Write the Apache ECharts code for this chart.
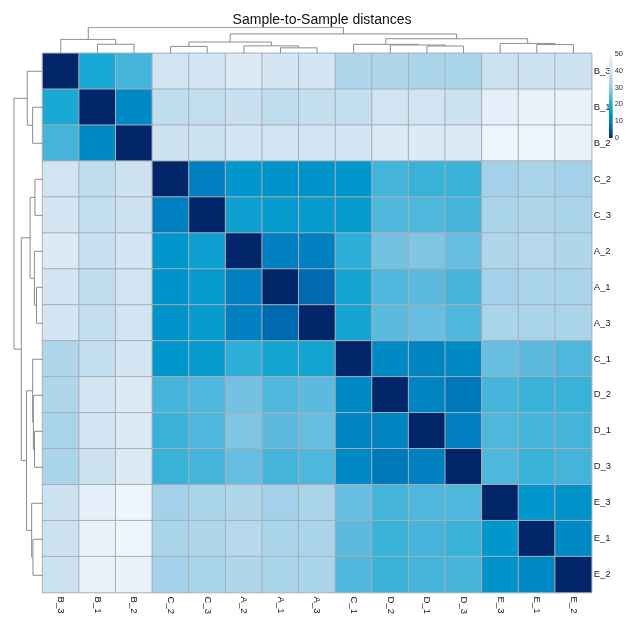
<!DOCTYPE html>
<html>
<head>
<meta charset="utf-8">
<script src="https://cdn.jsdelivr.net/npm/echarts@6/dist/echarts.min.js"></script>
<style>html,body{margin:0;padding:0;background:#fff;}#chart{width:626px;height:617px;}</style>
</head>
<body>
<div id="chart"></div>
<script>
// ---- data ----
const samples = ['B_3','B_1','B_2','C_2','C_3','A_2','A_1','A_3','C_1','D_2','D_1','D_3','E_3','E_1','E_2'];
const row_B_3 = [0,19,23,41,42,44,42,42,34,34,33,33,40,40,40];
const row_B_1 = [19,0,12,37,38,39,37,38,38,41,41,40,46,47,47];
const row_B_2 = [23,12,0,40,40,42,41,41,42,44,44,44,48,48,47];
const row_C_2 = [41,37,40,0,10,15,14,14,15,23,22,22,32,33,32];
const row_C_3 = [42,38,40,10,0,17,16,16,16,24,24,23,33,34,33];
const row_A_2 = [44,39,42,15,17,0,10,10,21,27,28,26,34,35,34];
const row_A_1 = [42,37,41,14,16,10,0,7,18,24,25,23,32,33,33];
const row_A_3 = [42,38,41,14,16,10,7,0,18,25,26,24,33,33,33];
const row_C_1 = [34,38,42,15,16,21,18,18,0,12,11,12,26,25,24];
const row_D_2 = [34,41,44,23,24,27,24,25,12,0,11,9,23,22,22];
const row_D_1 = [33,41,44,22,24,28,25,26,11,11,0,10,24,23,23];
const row_D_3 = [33,40,44,22,23,26,23,24,12,9,10,0,24,22,23];
const row_E_3 = [40,46,48,32,33,34,32,33,26,23,24,24,0,15,14];
const row_E_1 = [40,47,48,33,34,35,33,33,25,22,23,22,15,0,12];
const row_E_2 = [40,47,47,32,33,34,33,33,24,22,23,23,14,12,0];
const rows = [row_B_3,row_B_1,row_B_2,row_C_2,row_C_3,row_A_2,row_A_1,row_A_3,row_C_1,row_D_2,row_D_1,row_D_3,row_E_3,row_E_1,row_E_2];

// hierarchical clustering (R hclust convention: negative = leaf (1-based), positive = merge step)
const mergeLeft   = [-7, -4, -11, -6, -10, -14, -2, -9, -13, 2, -1, 8, 10, 11];
const mergeRight  = [-8, -5, -12,  1,   3, -15, -3,  5,   6, 4,  7, 9, 12, 13];
const mergeHeight = [21, 26.5, 28, 28.5, 32, 33.5, 34.7, 34.5, 38, 43.5, 53.5, 56, 74.5, 100];

const legendTicks = [0,10,20,30,40,50];
const palette = ['#03266a','#005ca6','#0080c0','#0098cc','#20acd6','#5cbade','#98cce6','#b6d9ed','#cce2f0','#e0ecf7','#f7fbff'];

// ---- build ----
const heatData = [];
rows.forEach((r, i) => r.forEach((v, j) => heatData.push([j, i, v])));

function dendroSegments() {
  const pos = [], hgt = [], segs = [];
  function node(id) {
    if (id < 0) return { p: -id - 1 + 0.5, h: 0 };
    return { p: pos[id - 1], h: hgt[id - 1] };
  }
  for (let k = 0; k < mergeLeft.length; k++) {
    const a = node(mergeLeft[k]), b = node(mergeRight[k]), h = mergeHeight[k];
    pos.push((a.p + b.p) / 2); hgt.push(h);
    segs.push([[a.p, a.h], [a.p, h], [b.p, h], [b.p, b.h]]);
  }
  return segs;
}
const segs = dendroSegments();
const topLines = segs.map(s => ({ coords: s }));
const leftLines = segs.map(s => ({ coords: s.map(([p, h]) => [h, p]) }));

const FONT = 'Liberation Sans, Arial, sans-serif';
const HL = 42.5, HT = 53.3, HW = 549.2, HH = 540;
const lineStyle = { color: '#8c8c8c', width: 1, opacity: 1 };

const option = {
  animation: false,
  textStyle: { fontFamily: FONT },
  title: {
    text: 'Sample-to-Sample distances', left: HL + HW / 2, top: 8, textAlign: 'center',
    textStyle: { fontFamily: FONT, fontSize: 14, fontWeight: 'normal', color: '#111' }
  },
  grid: [
    { left: HL, top: HT, width: HW, height: HH },
    { left: HL, top: 27.3, width: HW, height: HT - 27.3 },
    { left: 14, top: HT, width: HL - 14, height: HH },
    { left: 609, top: 54, width: 5.5, height: 84 }
  ],
  xAxis: [
    { type: 'category', gridIndex: 0, data: samples, position: 'bottom',
      axisLine: { show: false }, axisTick: { show: false }, splitLine: { show: false },
      axisLabel: { rotate: -90, margin: 4, fontSize: 9.5, color: '#222', fontFamily: FONT } },
    { type: 'value', gridIndex: 1, min: 0, max: samples.length, show: false },
    { type: 'value', gridIndex: 2, min: 0, max: 100, inverse: true, show: false },
    { type: 'category', gridIndex: 3, data: [''], show: false }
  ],
  yAxis: [
    { type: 'category', gridIndex: 0, data: samples, inverse: true, position: 'right',
      axisLine: { show: false }, axisTick: { show: false }, splitLine: { show: false },
      axisLabel: { margin: 2, fontSize: 9.5, color: '#222', fontFamily: FONT } },
    { type: 'value', gridIndex: 1, min: 0, max: 100, show: false },
    { type: 'value', gridIndex: 2, min: 0, max: samples.length, inverse: true, show: false },
    { type: 'value', gridIndex: 3, min: legendTicks[0], max: legendTicks[legendTicks.length - 1], interval: 10,
      position: 'right', axisLine: { show: false }, axisTick: { show: false }, splitLine: { show: false },
      axisLabel: { margin: 2, fontSize: 7.5, color: '#333', fontFamily: FONT } }
  ],
  visualMap: {
    show: false, min: 0, max: 50, seriesIndex: 0, calculable: false,
    inRange: { color: palette }
  },
  series: [
    { type: 'heatmap', xAxisIndex: 0, yAxisIndex: 0, data: heatData,
      itemStyle: { borderColor: '#a7aeb6', borderWidth: 1 }, emphasis: { disabled: true } },
    { type: 'lines', coordinateSystem: 'cartesian2d', xAxisIndex: 1, yAxisIndex: 1, polyline: true,
      data: topLines, lineStyle: lineStyle, silent: true },
    { type: 'lines', coordinateSystem: 'cartesian2d', xAxisIndex: 2, yAxisIndex: 2, polyline: true,
      data: leftLines, lineStyle: lineStyle, silent: true },
    { type: 'bar', xAxisIndex: 3, yAxisIndex: 3, data: [legendTicks[legendTicks.length - 1]], barWidth: '100%', silent: true,
      itemStyle: { color: { type: 'linear', x: 0, y: 1, x2: 0, y2: 0,
        colorStops: palette.map((c, i) => ({ offset: i / (palette.length - 1), color: c })) } } }
  ]
};
const chart = echarts.init(document.getElementById('chart'), null, { renderer: 'canvas' });
chart.setOption(option);
</script>
</body>
</html>
